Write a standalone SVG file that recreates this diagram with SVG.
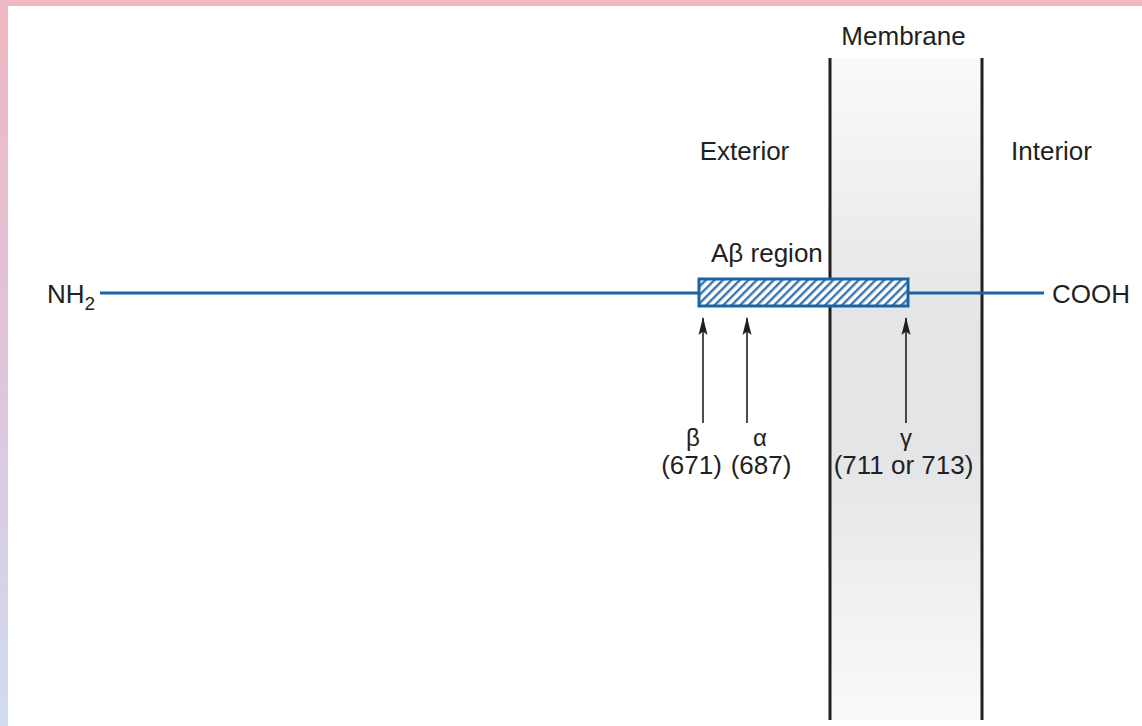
<svg xmlns="http://www.w3.org/2000/svg" width="1142" height="726" viewBox="0 0 1142 726">
<defs>
<linearGradient id="side" x1="0" y1="0" x2="0" y2="1">
<stop offset="0" stop-color="#efb8c2"/>
<stop offset="0.5" stop-color="#dfc4da"/>
<stop offset="1" stop-color="#d0dcf2"/>
</linearGradient>
<linearGradient id="mem" x1="0" y1="0" x2="0" y2="1">
<stop offset="0" stop-color="#fafafa"/>
<stop offset="0.4" stop-color="#e4e5e7"/>
<stop offset="0.6" stop-color="#e4e5e7"/>
<stop offset="1" stop-color="#fafafa"/>
</linearGradient>
<pattern id="hatch" width="6" height="6" patternUnits="userSpaceOnUse" patternTransform="rotate(45)">
<rect width="6" height="6" fill="#ffffff"/>
<rect width="2.4" height="6" fill="#3a74ad"/>
</pattern>
<marker id="arr" viewBox="0 0 18 10" refX="17" refY="5" markerWidth="18" markerHeight="10" markerUnits="userSpaceOnUse" orient="auto">
<path d="M18 5 L0 0.5 L3.5 5 L0 9.5 Z" fill="#231f20"/>
</marker>
<style>
text{font-family:"Liberation Sans",Arial,sans-serif;font-size:26px;fill:#231f20}
.c{text-anchor:middle}
.g{font-size:24px}
.blk{stroke:#231f20;stroke-width:3;fill:none}
.arrow{stroke:#231f20;stroke-width:1.6;fill:none}
</style>
</defs>
<rect width="1142" height="726" fill="#ffffff"/>
<rect x="0" y="0" width="8" height="726" fill="url(#side)"/>
<rect x="0" y="0" width="1142" height="6" fill="#efb8c2"/>
<g id="membrane">
<rect x="830" y="58" width="152" height="662" fill="url(#mem)"/>
<line class="blk" x1="830" y1="58" x2="830" y2="720"/>
<line class="blk" x1="982" y1="58" x2="982" y2="720"/>
<text class="c" x="903.5" y="45">Membrane</text>
</g>
<g id="exterior"><text class="c" x="744.5" y="160">Exterior</text></g>
<g id="interior"><text class="c" x="1051.5" y="160">Interior</text></g>
<g id="protein">
<line x1="100" y1="293" x2="1044" y2="293" stroke="#1a64a6" stroke-width="3"/>
<text x="47" y="303">NH<tspan font-size="19" dy="7">2</tspan></text>
<text x="1052" y="303">COOH</text>
</g>
<g id="abeta">
<rect x="699" y="279" width="209" height="27" fill="url(#hatch)" stroke="#1a64a6" stroke-width="3"/>
<text x="711" y="262">Aβ region</text>
</g>
<g id="connectors">
<line class="arrow" x1="703" y1="423" x2="703" y2="318" marker-end="url(#arr)"/>
<line class="arrow" x1="747" y1="423" x2="747" y2="318" marker-end="url(#arr)"/>
<line class="arrow" x1="906" y1="423" x2="906" y2="318" marker-end="url(#arr)"/>
</g>
<g id="beta"><text class="c g" x="693" y="446">β</text><text class="c" x="691.5" y="474">(671)</text></g>
<g id="alpha"><text class="c g" x="760" y="446">α</text><text class="c" x="761" y="474">(687)</text></g>
<g id="gamma"><text class="c g" x="906" y="446">γ</text><text class="c" x="903.5" y="474">(711 or 713)</text></g>
</svg>
